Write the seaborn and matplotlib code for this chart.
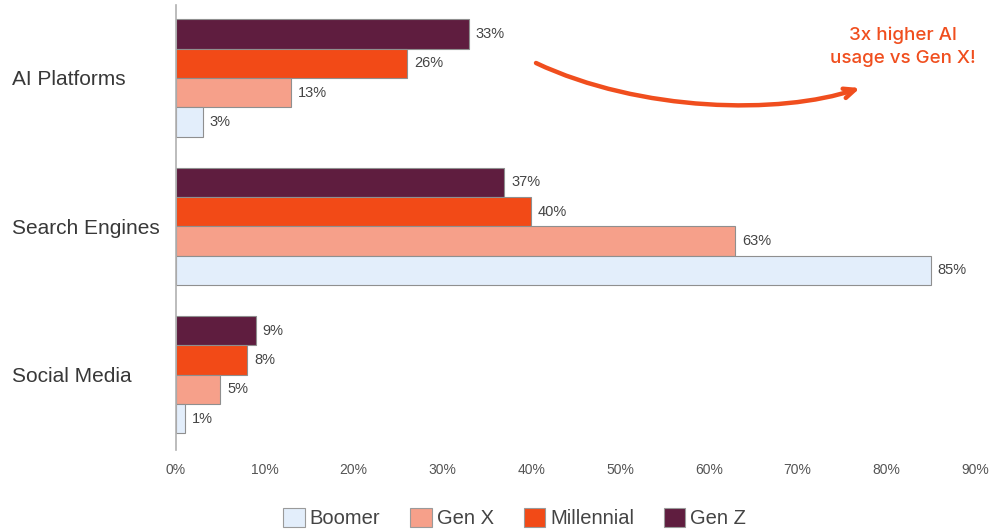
import matplotlib
matplotlib.use("Agg")
import matplotlib.pyplot as plt
import seaborn as sns
import pandas as pd
from matplotlib.patches import FancyArrowPatch, Patch
from matplotlib.path import Path

# Share of each generation using each channel (%)
channels = ["AI Platforms", "Search Engines", "Social Media"]
generations = ["Boomer", "Gen X", "Millennial", "Gen Z"]
boomer = [3, 85, 1]
gen_x = [13, 63, 5]
millennial = [26, 40, 8]
gen_z = [33, 37, 9]
x_ticks = [0, 10, 20, 30, 40, 50, 60, 70, 80, 90]

palette = {"Boomer": "#E3EEFB", "Gen X": "#F6A08A",
           "Millennial": "#F24A17", "Gen Z": "#5F1D3F"}

rows = []
for gen, vals in zip(generations, [boomer, gen_x, millennial, gen_z]):
    for ch, v in zip(channels, vals):
        rows.append({"Channel": ch, "Generation": gen, "Share": v})
df = pd.DataFrame(rows)

sns.set_style("white")
plt.rcParams["font.family"] = ["Liberation Sans", "DejaVu Sans"]

fig = plt.figure(figsize=(9.94, 5.31), dpi=100)
ax = fig.add_axes([0.177, 0.152, 0.804, 0.838])

draw_order = ["Gen Z", "Millennial", "Gen X", "Boomer"]
sns.barplot(data=df, y="Channel", x="Share", hue="Generation",
            hue_order=draw_order, order=channels, palette=palette,
            saturation=1, orient="h", width=0.79, edgecolor="#8f8f8f",
            linewidth=0.8, legend=False, ax=ax)

for cont in ax.containers:
    ax.bar_label(cont, labels=[f"{int(round(b.get_width()))}%" for b in cont],
                 padding=5, fontsize=10.5, color="#444444")

ax.set_xlim(0, 90)
ax.set_ylim(2.51, -0.49)
ax.set_xticks(x_ticks)
ax.set_xticklabels([f"{t}%" for t in x_ticks], fontsize=10, color="#555555")
ax.tick_params(axis="x", length=0, pad=9)
ax.tick_params(axis="y", length=0, pad=118)
for lbl in ax.get_yticklabels():
    lbl.set_horizontalalignment("left")
    lbl.set_fontsize(15)
    lbl.set_color("#383838")
ax.set_xlabel("")
ax.set_ylabel("")
for s in ["top", "right", "bottom"]:
    ax.spines[s].set_visible(False)
ax.spines["left"].set_color("#b0b0b0")
ax.spines["left"].set_linewidth(1.2)

# Legend in the natural generation order
handles = [Patch(facecolor=palette[g], edgecolor="#9a9a9a", linewidth=0.8)
           for g in generations]
fig.legend(handles, generations, loc="center", bbox_to_anchor=(0.518, 0.024),
           ncol=4, frameon=False, fontsize=14.5, handlelength=1.05,
           handleheight=1.05, handletextpad=0.25, columnspacing=1.5,
           labelcolor="#444444")

# Callout text and hand-drawn style arrow
accent = "#F04E1E"
fig.text(0.908, 0.912, "3x higher AI\nusage vs Gen X!", ha="center", va="center",
         fontsize=13.5, color=accent, family=["Inter", "DejaVu Sans"],
         fontweight="medium", linespacing=1.4)

W, H = 994, 531
def fp(x, y):
    return (x / W, 1 - y / H)

verts = [fp(536, 63), fp(640, 112), fp(780, 115), fp(860, 88)]
path = Path(verts, [Path.MOVETO, Path.CURVE4, Path.CURVE4, Path.CURVE4])
arrow = FancyArrowPatch(path=path, transform=fig.transFigure,
                        arrowstyle="->,head_length=8,head_width=3.5",
                        color=accent, linewidth=3.2, capstyle="round",
                        joinstyle="round")
fig.patches.append(arrow)

fig.savefig("out.png", dpi=100, facecolor="white")
